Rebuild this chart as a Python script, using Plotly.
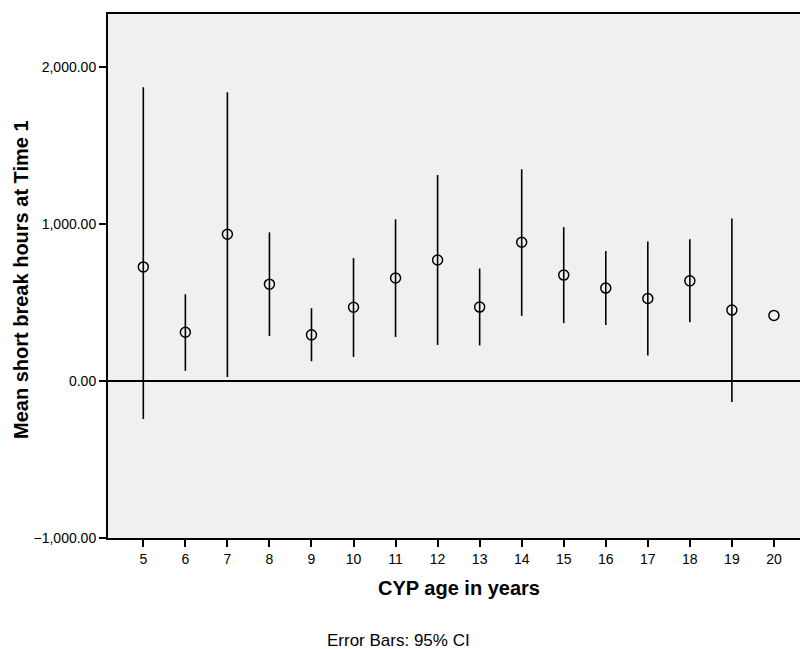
import plotly.graph_objects as go

# CYP age groups and the mean short break hours at Time 1 with 95% CI bounds
ages = [5, 6, 7, 8, 9, 10, 11, 12, 13, 14, 15, 16, 17, 18, 19, 20]
mean_hours = [727, 311, 935, 617, 294, 470, 656, 771, 471, 884, 675, 592, 526, 638, 452, 418]
ci_upper = [1871, 553, 1840, 947, 464, 783, 1030, 1312, 717, 1349, 980, 828, 889, 903, 1036, None]
ci_lower = [-242, 65, 26, 287, 126, 153, 281, 230, 227, 415, 369, 357, 163, 375, -134, None]

err_plus = [(u - m) if u is not None else 0 for u, m in zip(ci_upper, mean_hours)]
err_minus = [(m - l) if l is not None else 0 for l, m in zip(ci_lower, mean_hours)]

font_family = "Liberation Sans, Arial, sans-serif"

fig = go.Figure()

# zero reference line
fig.add_hline(y=0, line=dict(color="black", width=2), layer="below")

fig.add_trace(go.Scatter(
    x=ages,
    y=mean_hours,
    mode="markers",
    marker=dict(symbol="circle-open", size=10, color="black", line=dict(width=1.5, color="black")),
    error_y=dict(
        type="data",
        symmetric=False,
        array=err_plus,
        arrayminus=err_minus,
        color="black",
        thickness=1.6,
        width=0,
    ),
    showlegend=False,
    hoverinfo="x+y",
))

fig.update_layout(
    width=800,
    height=649,
    margin=dict(l=108, r=0, t=14, b=111),
    paper_bgcolor="white",
    plot_bgcolor="#f0f0f0",
    font=dict(family=font_family, color="black", size=14),
    xaxis=dict(
        range=[4.16, 20.62],
        tickmode="array",
        tickvals=ages,
        ticktext=[str(a) for a in ages],
        ticks="outside",
        ticklen=7,
        tickwidth=1.5,
        tickcolor="black",
        showline=True,
        linecolor="black",
        linewidth=2,
        mirror=True,
        showgrid=False,
        zeroline=False,
        tickfont=dict(size=14),
    ),
    yaxis=dict(
        range=[-1000, 2338],
        tickvals=[-1000, 0, 1000, 2000],
        tickformat=",.2f",
        ticks="outside",
        ticklen=7,
        tickwidth=1.5,
        tickcolor="black",
        showline=True,
        linecolor="black",
        linewidth=2,
        showgrid=False,
        zeroline=False,
        tickfont=dict(size=14),
    ),
    annotations=[
        dict(
            text="<b>Mean short break hours at Time 1</b>",
            xref="paper", yref="paper",
            x=-0.1257, y=0.4924,
            xanchor="center", yanchor="middle",
            textangle=-90,
            showarrow=False,
            font=dict(size=20, family=font_family),
        ),
        dict(
            text="<b>CYP age in years</b>",
            xref="paper", yref="paper",
            x=0.5072, y=-0.0954,
            xanchor="center", yanchor="middle",
            showarrow=False,
            font=dict(size=20, family=font_family),
        ),
        dict(
            text="Error Bars: 95% CI",
            xref="paper", yref="paper",
            x=0.4205, y=-0.1947,
            xanchor="center", yanchor="middle",
            showarrow=False,
            font=dict(size=17, family=font_family),
        ),
    ],
)

fig.write_html("out.html")
